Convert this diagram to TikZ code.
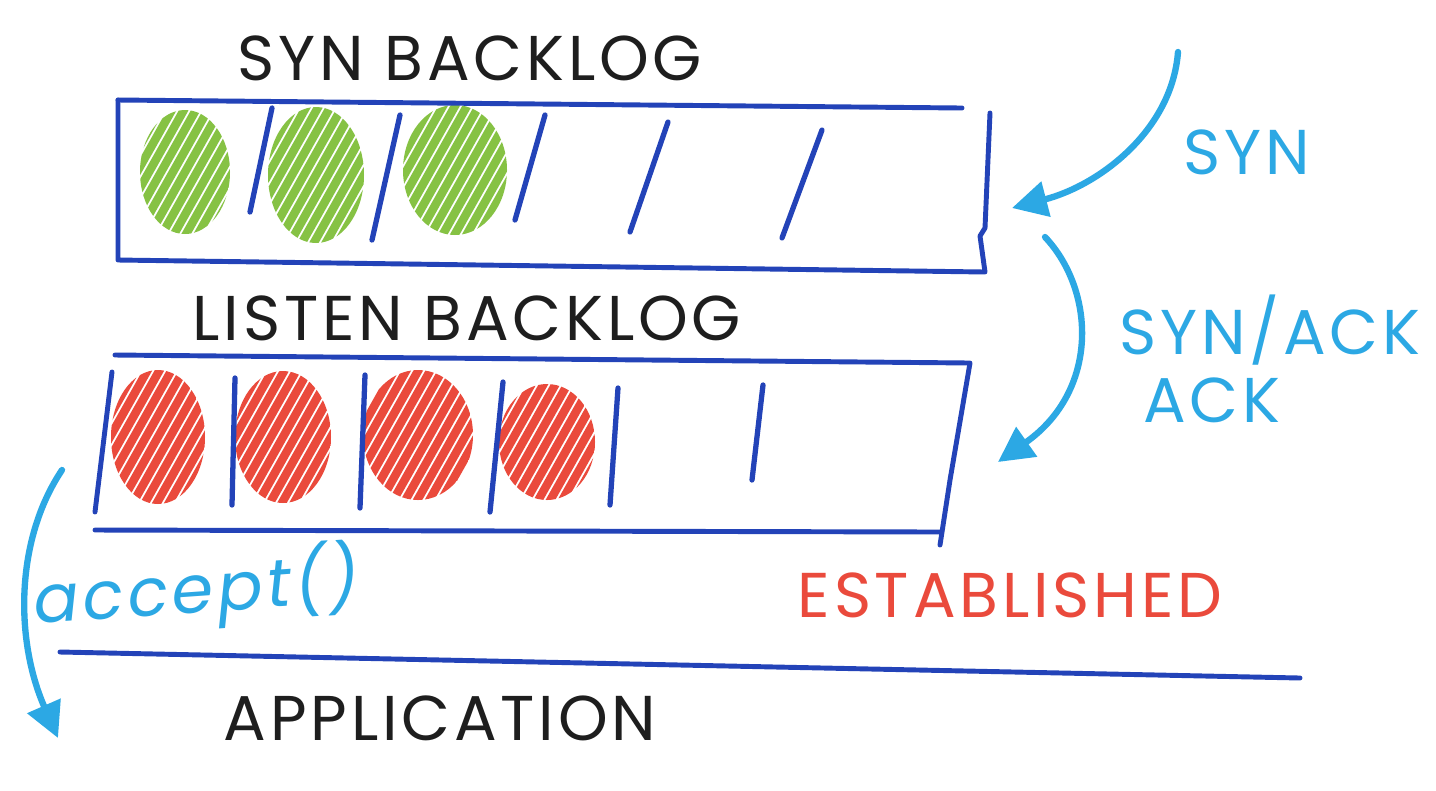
\documentclass[tikz,border=0pt]{standalone}
\usepackage{fontspec}
\setmainfont{Poppins}[LetterSpace=6.0]
\usetikzlibrary{arrows.meta,calc,positioning}
\tikzset{>=latex}
\definecolor{boxblue}{HTML}{2343B8}
\definecolor{skyblue}{HTML}{2CA8E4}
\definecolor{hatchgreen}{HTML}{86C244}
\definecolor{hatchred}{HTML}{EA4A3C}
\definecolor{inkblack}{HTML}{1E1E1E}
\tikzset{queue/.style={draw=boxblue, line width=1.4pt, line cap=round, line join=round}}
\tikzset{slot/.style={draw=boxblue, line width=1.5pt, line cap=round}}
\tikzset{scrib/.style={line width=2.4pt, line cap=round}}
\tikzset{flow/.style={draw=skyblue, line width=1.8pt, line cap=round, -{Triangle[length=10pt,width=10pt]}}}
\tikzset{handtext/.style={font=\fontsize{18}{21}\selectfont, text=inkblack, inner sep=0pt}}
\newcommand{\scribble}[4]{%
  \begin{scope}
    \clip #1 ellipse [x radius=#2, y radius=#3];
    \foreach \d in {-144,-132,...,144}
      \draw[scrib, #4] ($#1+(\d-45,80)$) -- ($#1+(\d+45,-80)$);
  \end{scope}}

\begin{document}
\begin{tikzpicture}[x=0.01cm,y=-0.01cm]
      \useasboundingbox[fill=white] (0,0) rectangle (1436,790);
      % syn backlog
      \coordinate (synNW) at (118,100);
      \coordinate (synNE) at (962,108);
      \coordinate (synE) at (990,113);
      \coordinate (synSE) at (985,272);
      \coordinate (synSW) at (118,260);
      \scribble{(185,172)}{45}{62}{hatchgreen}
      \scribble{(316,175)}{48}{68}{hatchgreen}
      \scribble{(455,170)}{52}{65}{hatchgreen}
      \draw[queue] (synNW) -- (synNE);
      \draw[queue] (synE) -- (985,228) -- (980,236) -- (synSE) -- (synSW) -- (synNW);
      \draw[slot] (272,108) -- (250,212);
      \draw[slot] (400,115) -- (372,240);
      \draw[slot] (545,115) -- (515,220);
      \draw[slot] (668,122) -- (630,232);
      \draw[slot] (822,130) -- (782,238);
      \node[handtext] (synTitle) at (470,58) {SYN BACKLOG};
      % listen backlog
      \coordinate (lstNW) at (115,355);
      \coordinate (lstNE) at (970,363);
      \coordinate (lstSE) at (940,545);
      \coordinate (lstSW) at (95,530);
      \scribble{(158,437)}{47}{67}{hatchred}
      \scribble{(283,437)}{48}{66}{hatchred}
      \scribble{(418,435)}{55}{65}{hatchred}
      \scribble{(547,442)}{48}{58}{hatchred}
      \draw[queue] (lstNW) -- (lstNE) -- (950,480) -- (lstSE);
      \draw[queue] (112,372) -- (95,512);
      \draw[queue] (lstSW) -- (940,532);
      \draw[slot] (235,378) -- (232,505);
      \draw[slot] (365,375) -- (360,508);
      \draw[slot] (503,382) -- (490,512);
      \draw[slot] (618,388) -- (610,505);
      \draw[slot] (763,385) -- (752,480);
      \node[handtext] (lstTitle) at (467,318) {LISTEN BACKLOG};
      % handshake
      \coordinate (synFrom) at (1178,52);
      \coordinate (synTo) at (1012,208);
      \coordinate (ackFrom) at (1045,237);
      \coordinate (ackTo) at (998,462);
      \draw[flow] (synFrom) .. controls (1172,130) and (1100,185) .. (synTo);
      \draw[flow] (ackFrom) .. controls (1095,290) and (1100,390) .. (ackTo);
      \node[handtext, text=skyblue] (synMsg) at (1247,152) {SYN};
      \node[handtext, text=skyblue] (ackMsg) at (1270,330) {SYN/ACK};
      \node[handtext, text=skyblue] (ackMsg2) at (1212,400) {ACK};
      \node[handtext, text=hatchred] (estab) at (1010,595) {ESTABLISHED};
      % application
      \coordinate (accFrom) at (62,470);
      \coordinate (accTo) at (58,738);
      \coordinate (appW) at (60,652);
      \coordinate (appE) at (1300,678);
      \draw[flow] (accFrom) .. controls (15,540) and (15,640) .. (accTo);
      \draw[queue] (appW) -- (appE);
      \node[handtext, text=skyblue, font=\fontsize{19}{22}\selectfont\itshape, rotate=4] (acc) at (197,590) {accept()};
      \node[handtext] (app) at (440,718) {APPLICATION};
    \end{tikzpicture}
\end{document}
